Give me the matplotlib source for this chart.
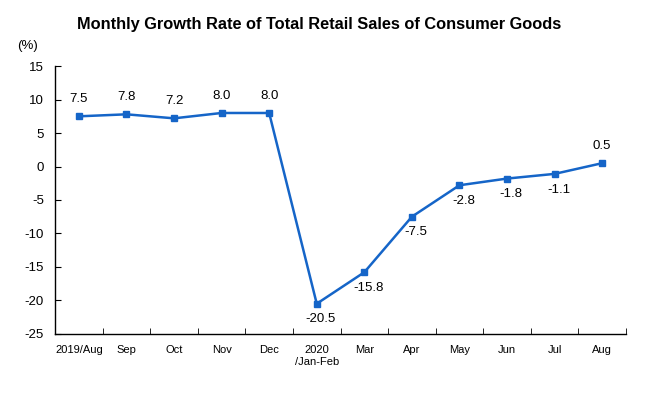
import numpy as np
import matplotlib.pyplot as plt
from matplotlib.ticker import FixedLocator

plt.rcParams['font.family'] = ['Liberation Sans', 'DejaVu Sans']
plt.rcParams['axes.unicode_minus'] = False

# Datos
meses = ['2019/Aug', 'Sep', 'Oct', 'Nov', 'Dec', '2020\n/Jan-Feb',
         'Mar', 'Apr', 'May', 'Jun', 'Jul', 'Aug']
crecimiento = [7.5, 7.8, 7.2, 8.0, 8.0, -20.5, -15.8, -7.5, -2.8, -1.8, -1.1, 0.5]
etiqueta_arriba = [True, True, True, True, True, False, False, False, False, False, False, True]

color_linea = '#1565C8'

fig = plt.figure(figsize=(6.48, 3.96), dpi=100)
ax = fig.add_axes([0.085, 0.157, 0.881, 0.676])

x = np.arange(len(meses))
ax.plot(x, crecimiento, color=color_linea, linewidth=1.8,
        marker='s', markersize=4)

for xi, yi, arriba in zip(x, crecimiento, etiqueta_arriba):
    if arriba:
        ax.annotate(f'{yi:.1f}', (xi, yi), xytext=(0, 8), textcoords='offset points',
                    ha='center', va='bottom', fontsize=9.5)
    else:
        ax.annotate(f'{yi:.1f}', (xi, yi), xytext=(3, -7), textcoords='offset points',
                    ha='center', va='top', fontsize=9.5)

ax.set_xlim(-0.5, len(meses) - 0.5)
ax.set_ylim(-25, 15)
ax.set_yticks(range(-25, 16, 5))
ax.set_xticks(x)
ax.set_xticklabels(meses, fontsize=8, linespacing=1.3)
ax.xaxis.set_minor_locator(FixedLocator(np.arange(-0.5, len(meses), 1)))
ax.tick_params(axis='x', which='major', length=0, pad=8)
ax.tick_params(axis='x', which='minor', direction='in', length=4)
ax.tick_params(axis='y', direction='in', length=4, labelsize=9.5, pad=8)

for lado in ['top', 'right']:
    ax.spines[lado].set_visible(False)
ax.spines['left'].set_linewidth(1.0)
ax.spines['bottom'].set_linewidth(1.0)

fig.text(0.493, 0.937, 'Monthly Growth Rate of Total Retail Sales of Consumer Goods',
         ha='center', va='center', fontsize=11.8, fontweight='bold')
fig.text(0.043, 0.885, '(%)', ha='center', va='center', fontsize=9.5)

plt.savefig('out.png', dpi=100)
plt.close()
